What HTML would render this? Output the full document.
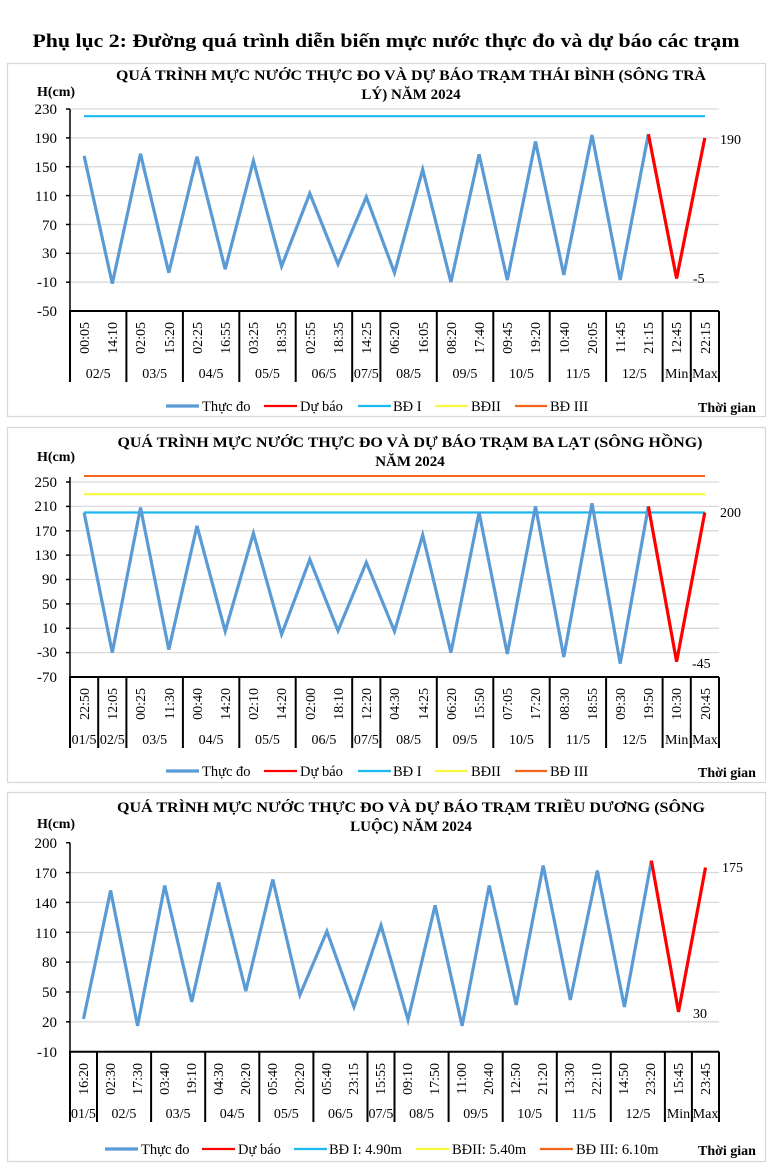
<!DOCTYPE html>
<html><head><meta charset="utf-8"><style>
html,body{margin:0;padding:0;background:#fff}
svg{display:block;font-family:"Liberation Serif","DejaVu Serif",serif}
.g{stroke:#d9d9d9;stroke-width:1.3}
.ax{stroke:#000;stroke-width:1.5}
.bx{stroke:#000;stroke-width:2}
.yl{font-size:15px;text-anchor:end}
.tl{font-size:14px;text-anchor:end}
.dl{font-size:14px;text-anchor:middle}
.lg{font-size:14.5px}
.tt{font-size:15px;font-weight:bold;text-anchor:middle}
.b{font-weight:bold}
.an{font-size:14px}
.s{fill:none;stroke:#5b9bd5;stroke-width:3.2;stroke-linejoin:miter}
.r{fill:none;stroke:#ff0000;stroke-width:3.2}
</style></head><body>
<svg width="771" height="1173" viewBox="0 0 771 1173" xmlns="http://www.w3.org/2000/svg">
<text x="386" y="47" text-anchor="middle" font-size="19" font-weight="bold" textLength="707" lengthAdjust="spacingAndGlyphs">Phụ lục 2: Đường quá trình diễn biến mực nước thực đo và dự báo các trạm</text>

<!-- ============ CHART 1 ============ -->
<rect x="7.5" y="63.5" width="758" height="353" fill="none" stroke="#d9d9d9" stroke-width="1.3"/>
<text class="tt" x="411" y="80" textLength="590" lengthAdjust="spacingAndGlyphs">QUÁ TRÌNH MỰC NƯỚC THỰC ĐO VÀ DỰ BÁO TRẠM THÁI BÌNH (SÔNG TRÀ</text>
<text class="tt" x="411" y="99">LÝ) NĂM 2024</text>
<text x="37" y="96" font-size="14" class="b">H(cm)</text>
<g class="g">
<line x1="70" x2="719" y1="109" y2="109"/><line x1="70" x2="719" y1="137.9" y2="137.9"/><line x1="70" x2="719" y1="166.7" y2="166.7"/><line x1="70" x2="719" y1="195.6" y2="195.6"/><line x1="70" x2="719" y1="224.5" y2="224.5"/><line x1="70" x2="719" y1="253.3" y2="253.3"/><line x1="70" x2="719" y1="282.2" y2="282.2"/>
</g>
<g class="yl"><text x="57" y="114">230</text><text x="57" y="143">190</text><text x="57" y="172">150</text><text x="57" y="201">110</text><text x="57" y="230">70</text><text x="57" y="258">30</text><text x="57" y="287">-10</text><text x="57" y="316">-50</text></g>
<line class="ax" x1="70" y1="109" x2="70" y2="311"/>
<g class="ax"><line x1="66" x2="70" y1="109" y2="109"/><line x1="66" x2="70" y1="137.9" y2="137.9"/><line x1="66" x2="70" y1="166.7" y2="166.7"/><line x1="66" x2="70" y1="195.6" y2="195.6"/><line x1="66" x2="70" y1="224.5" y2="224.5"/><line x1="66" x2="70" y1="253.3" y2="253.3"/><line x1="66" x2="70" y1="282.2" y2="282.2"/></g>
<line x1="84" x2="705" y1="116.2" y2="116.2" stroke="#1cb8f0" stroke-width="2.2"/>
<polyline class="s" points="84.1,155.9 112.3,283.6 140.5,153.7 168.8,272.8 197.0,156.6 225.2,269.2 253.4,160.9 281.6,266.3 309.8,193.4 338.0,264.1 366.3,197.0 394.5,272.8 422.7,169.6 450.9,282.1 479.1,154.4 507.3,280.0 535.5,141.5 563.8,274.9 592.0,135.0 620.2,280.0 648.4,134.2"/>
<polyline class="r" points="648.4,134.2 676.6,278.5 704.8,137.9"/>
<text x="720" y="144" class="an">190</text><text x="693" y="283" class="an">-5</text>
<line x1="69" x2="719" y1="311" y2="311" stroke="#000" stroke-width="2"/>
<g class="bx"><line x1="70" x2="70" y1="311" y2="382"/><line x1="126.4" x2="126.4" y1="311" y2="382"/><line x1="182.9" x2="182.9" y1="311" y2="382"/><line x1="239.3" x2="239.3" y1="311" y2="382"/><line x1="295.7" x2="295.7" y1="311" y2="382"/><line x1="352.2" x2="352.2" y1="311" y2="382"/><line x1="380.4" x2="380.4" y1="311" y2="382"/><line x1="436.8" x2="436.8" y1="311" y2="382"/><line x1="493.3" x2="493.3" y1="311" y2="382"/><line x1="549.7" x2="549.7" y1="311" y2="382"/><line x1="606.1" x2="606.1" y1="311" y2="382"/><line x1="662.6" x2="662.6" y1="311" y2="382"/><line x1="690.8" x2="690.8" y1="311" y2="382"/><line x1="719" x2="719" y1="311" y2="382"/></g>
<g class="tl">
<text transform="translate(89,322) rotate(-90)">00:05</text><text transform="translate(117,322) rotate(-90)">14:10</text><text transform="translate(145,322) rotate(-90)">02:05</text><text transform="translate(174,322) rotate(-90)">15:20</text><text transform="translate(202,322) rotate(-90)">02:25</text><text transform="translate(230,322) rotate(-90)">16:55</text><text transform="translate(258,322) rotate(-90)">03:25</text><text transform="translate(286,322) rotate(-90)">18:35</text><text transform="translate(315,322) rotate(-90)">02:55</text><text transform="translate(343,322) rotate(-90)">18:35</text><text transform="translate(371,322) rotate(-90)">14:25</text><text transform="translate(399,322) rotate(-90)">06:20</text><text transform="translate(428,322) rotate(-90)">16:05</text><text transform="translate(456,322) rotate(-90)">08:20</text><text transform="translate(484,322) rotate(-90)">17:40</text><text transform="translate(512,322) rotate(-90)">09:45</text><text transform="translate(540,322) rotate(-90)">19:20</text><text transform="translate(569,322) rotate(-90)">10:40</text><text transform="translate(597,322) rotate(-90)">20:05</text><text transform="translate(625,322) rotate(-90)">11:45</text><text transform="translate(653,322) rotate(-90)">21:15</text><text transform="translate(681,322) rotate(-90)">12:45</text><text transform="translate(710,322) rotate(-90)">22:15</text>
</g>
<g class="dl">
<text x="98.2" y="378">02/5</text><text x="154.7" y="378">03/5</text><text x="211.1" y="378">04/5</text><text x="267.5" y="378">05/5</text><text x="324" y="378">06/5</text><text x="366.3" y="378">07/5</text><text x="408.6" y="378">08/5</text><text x="465" y="378">09/5</text><text x="521.5" y="378">10/5</text><text x="577.9" y="378">11/5</text><text x="634.3" y="378">12/5</text><text x="676.7" y="378">Min</text><text x="704.9" y="378">Max</text>
</g>
<g class="lg">
<line x1="166" x2="199" y1="406" y2="406" stroke="#5b9bd5" stroke-width="3.2"/><text x="202" y="411">Thực đo</text>
<line x1="264" x2="297" y1="406" y2="406" stroke="#ff0000" stroke-width="2.2"/><text x="300" y="411">Dự báo</text>
<line x1="358" x2="391" y1="406" y2="406" stroke="#1cb8f0" stroke-width="2.2"/><text x="393" y="411">BĐ I</text>
<line x1="435" x2="468" y1="406" y2="406" stroke="#f7f740" stroke-width="2.2"/><text x="471" y="411">BĐII</text>
<line x1="515" x2="547" y1="406" y2="406" stroke="#f4651b" stroke-width="2.2"/><text x="550" y="411">BĐ III</text>
<text x="698" y="412" class="b" font-size="14">Thời gian</text>
</g>

<!-- ============ CHART 2 ============ -->
<rect x="7.5" y="427.5" width="758" height="355" fill="none" stroke="#d9d9d9" stroke-width="1.3"/>
<text class="tt" x="410" y="447" textLength="585" lengthAdjust="spacingAndGlyphs">QUÁ TRÌNH MỰC NƯỚC THỰC ĐO VÀ DỰ BÁO TRẠM BA LẠT (SÔNG HỒNG)</text>
<text class="tt" x="410" y="466">NĂM 2024</text>
<text x="37" y="461" font-size="14" class="b">H(cm)</text>
<g class="g">
<line x1="70" x2="719" y1="482" y2="482"/><line x1="70" x2="719" y1="506.4" y2="506.4"/><line x1="70" x2="719" y1="530.8" y2="530.8"/><line x1="70" x2="719" y1="555.1" y2="555.1"/><line x1="70" x2="719" y1="579.5" y2="579.5"/><line x1="70" x2="719" y1="603.9" y2="603.9"/><line x1="70" x2="719" y1="628.3" y2="628.3"/><line x1="70" x2="719" y1="652.6" y2="652.6"/>
</g>
<g class="yl"><text x="57" y="487">250</text><text x="57" y="511">210</text><text x="57" y="536">170</text><text x="57" y="560">130</text><text x="57" y="584">90</text><text x="57" y="609">50</text><text x="57" y="633">10</text><text x="57" y="657">-30</text><text x="57" y="682">-70</text></g>
<line class="ax" x1="70" y1="477" x2="70" y2="677"/>
<g class="ax"><line x1="66" x2="70" y1="482" y2="482"/><line x1="66" x2="70" y1="506.4" y2="506.4"/><line x1="66" x2="70" y1="530.8" y2="530.8"/><line x1="66" x2="70" y1="555.1" y2="555.1"/><line x1="66" x2="70" y1="579.5" y2="579.5"/><line x1="66" x2="70" y1="603.9" y2="603.9"/><line x1="66" x2="70" y1="628.3" y2="628.3"/><line x1="66" x2="70" y1="652.6" y2="652.6"/></g>
<line x1="84" x2="705" y1="476" y2="476" stroke="#f4651b" stroke-width="2"/>
<line x1="84" x2="705" y1="494.2" y2="494.2" stroke="#f7f740" stroke-width="2.2"/>
<line x1="84" x2="705" y1="512.5" y2="512.5" stroke="#1cb8f0" stroke-width="2.2"/>
<polyline class="s" points="84.1,512.5 112.3,652.6 140.5,507.6 168.8,649.6 197.0,525.9 225.2,631.3 253.4,533.2 281.6,634.4 309.8,559.4 338.0,630.7 366.3,562.4 394.5,631.3 422.7,535.0 450.9,652.6 479.1,512.5 507.3,653.9 535.5,506.4 563.8,656.9 592.0,503.3 620.2,663.6 648.4,506.4"/>
<polyline class="r" points="648.4,506.4 676.6,661.7 704.8,512.5"/>
<text x="720" y="517" class="an">200</text><text x="692" y="668" class="an">-45</text>
<line x1="69" x2="719" y1="677" y2="677" stroke="#000" stroke-width="2"/>
<g class="bx"><line x1="70" x2="70" y1="677" y2="748"/><line x1="98.2" x2="98.2" y1="677" y2="748"/><line x1="126.4" x2="126.4" y1="677" y2="748"/><line x1="182.9" x2="182.9" y1="677" y2="748"/><line x1="239.3" x2="239.3" y1="677" y2="748"/><line x1="295.7" x2="295.7" y1="677" y2="748"/><line x1="352.2" x2="352.2" y1="677" y2="748"/><line x1="380.4" x2="380.4" y1="677" y2="748"/><line x1="436.8" x2="436.8" y1="677" y2="748"/><line x1="493.3" x2="493.3" y1="677" y2="748"/><line x1="549.7" x2="549.7" y1="677" y2="748"/><line x1="606.1" x2="606.1" y1="677" y2="748"/><line x1="662.6" x2="662.6" y1="677" y2="748"/><line x1="690.8" x2="690.8" y1="677" y2="748"/><line x1="719" x2="719" y1="677" y2="748"/></g>
<g class="tl">
<text transform="translate(89,688) rotate(-90)">22:50</text><text transform="translate(117,688) rotate(-90)">12:05</text><text transform="translate(145,688) rotate(-90)">00:25</text><text transform="translate(174,688) rotate(-90)">11:30</text><text transform="translate(202,688) rotate(-90)">00:40</text><text transform="translate(230,688) rotate(-90)">14:20</text><text transform="translate(258,688) rotate(-90)">02:10</text><text transform="translate(286,688) rotate(-90)">14:20</text><text transform="translate(315,688) rotate(-90)">02:00</text><text transform="translate(343,688) rotate(-90)">18:10</text><text transform="translate(371,688) rotate(-90)">12:20</text><text transform="translate(399,688) rotate(-90)">04:30</text><text transform="translate(428,688) rotate(-90)">14:25</text><text transform="translate(456,688) rotate(-90)">06:20</text><text transform="translate(484,688) rotate(-90)">15:50</text><text transform="translate(512,688) rotate(-90)">07:05</text><text transform="translate(540,688) rotate(-90)">17:20</text><text transform="translate(569,688) rotate(-90)">08:30</text><text transform="translate(597,688) rotate(-90)">18:55</text><text transform="translate(625,688) rotate(-90)">09:30</text><text transform="translate(653,688) rotate(-90)">19:50</text><text transform="translate(681,688) rotate(-90)">10:30</text><text transform="translate(710,688) rotate(-90)">20:45</text>
</g>
<g class="dl">
<text x="84.1" y="744">01/5</text><text x="112.3" y="744">02/5</text><text x="154.7" y="744">03/5</text><text x="211.1" y="744">04/5</text><text x="267.5" y="744">05/5</text><text x="324" y="744">06/5</text><text x="366.3" y="744">07/5</text><text x="408.6" y="744">08/5</text><text x="465" y="744">09/5</text><text x="521.5" y="744">10/5</text><text x="577.9" y="744">11/5</text><text x="634.3" y="744">12/5</text><text x="676.7" y="744">Min</text><text x="704.9" y="744">Max</text>
</g>
<g class="lg">
<line x1="166" x2="199" y1="771" y2="771" stroke="#5b9bd5" stroke-width="3.2"/><text x="202" y="776">Thực đo</text>
<line x1="264" x2="297" y1="771" y2="771" stroke="#ff0000" stroke-width="2.2"/><text x="300" y="776">Dự báo</text>
<line x1="358" x2="391" y1="771" y2="771" stroke="#1cb8f0" stroke-width="2.2"/><text x="393" y="776">BĐ I</text>
<line x1="435" x2="468" y1="771" y2="771" stroke="#f7f740" stroke-width="2.2"/><text x="471" y="776">BĐII</text>
<line x1="515" x2="547" y1="771" y2="771" stroke="#f4651b" stroke-width="2.2"/><text x="550" y="776">BĐ III</text>
<text x="698" y="777" class="b" font-size="14">Thời gian</text>
</g>

<!-- ============ CHART 3 ============ -->
<rect x="7.5" y="792.5" width="758" height="369" fill="none" stroke="#d9d9d9" stroke-width="1.3"/>
<text class="tt" x="411" y="812" textLength="588" lengthAdjust="spacingAndGlyphs">QUÁ TRÌNH MỰC NƯỚC THỰC ĐO VÀ DỰ BÁO TRẠM TRIỀU DƯƠNG (SÔNG</text>
<text class="tt" x="411" y="831">LUỘC) NĂM 2024</text>
<text x="37" y="828" font-size="14" class="b">H(cm)</text>
<g class="g">
<line x1="70" x2="719" y1="872.6" y2="872.6"/><line x1="70" x2="719" y1="902.4" y2="902.4"/><line x1="70" x2="719" y1="932.3" y2="932.3"/><line x1="70" x2="719" y1="962.1" y2="962.1"/><line x1="70" x2="719" y1="992" y2="992"/><line x1="70" x2="719" y1="1021.8" y2="1021.8"/>
</g>
<g class="yl"><text x="57" y="848">200</text><text x="57" y="878">170</text><text x="57" y="908">140</text><text x="57" y="938">110</text><text x="57" y="967">80</text><text x="57" y="997">50</text><text x="57" y="1027">20</text><text x="57" y="1057">-10</text></g>
<line class="ax" x1="70" y1="842.7" x2="70" y2="1051.7"/>
<g class="ax"><line x1="66" x2="70" y1="842.7" y2="842.7"/><line x1="66" x2="70" y1="872.6" y2="872.6"/><line x1="66" x2="70" y1="902.4" y2="902.4"/><line x1="66" x2="70" y1="932.3" y2="932.3"/><line x1="66" x2="70" y1="962.1" y2="962.1"/><line x1="66" x2="70" y1="992" y2="992"/><line x1="66" x2="70" y1="1021.8" y2="1021.8"/></g>
<polyline class="s" points="83.5,1018.9 110.6,890.5 137.6,1025.8 164.7,885.5 191.7,1001.9 218.7,882.5 245.8,991.0 272.8,879.5 299.9,995.0 326.9,931.3 354.0,1006.9 381.0,925.3 408.0,1019.8 435.1,905.4 462.1,1025.8 489.2,885.5 516.2,1004.9 543.2,865.6 570.3,999.9 597.3,870.6 624.4,1006.9 651.4,860.6"/>
<polyline class="r" points="651.4,860.6 678.5,1011.9 705.5,867.6"/>
<text x="722" y="872" class="an">175</text><text x="693" y="1018" class="an">30</text>
<line x1="69" x2="719" y1="1051.7" y2="1051.7" stroke="#000" stroke-width="2"/>
<g class="bx"><line x1="70" x2="70" y1="1051.7" y2="1122"/><line x1="97" x2="97" y1="1051.7" y2="1122"/><line x1="151.1" x2="151.1" y1="1051.7" y2="1122"/><line x1="205.2" x2="205.2" y1="1051.7" y2="1122"/><line x1="259.3" x2="259.3" y1="1051.7" y2="1122"/><line x1="313.4" x2="313.4" y1="1051.7" y2="1122"/><line x1="367.5" x2="367.5" y1="1051.7" y2="1122"/><line x1="394.5" x2="394.5" y1="1051.7" y2="1122"/><line x1="448.6" x2="448.6" y1="1051.7" y2="1122"/><line x1="502.7" x2="502.7" y1="1051.7" y2="1122"/><line x1="556.8" x2="556.8" y1="1051.7" y2="1122"/><line x1="610.8" x2="610.8" y1="1051.7" y2="1122"/><line x1="664.9" x2="664.9" y1="1051.7" y2="1122"/><line x1="691.9" x2="691.9" y1="1051.7" y2="1122"/><line x1="719" x2="719" y1="1051.7" y2="1122"/></g>
<g class="tl">
<text transform="translate(88,1063) rotate(-90)">16:20</text><text transform="translate(115,1063) rotate(-90)">02:30</text><text transform="translate(142,1063) rotate(-90)">17:30</text><text transform="translate(169,1063) rotate(-90)">03:40</text><text transform="translate(196,1063) rotate(-90)">19:10</text><text transform="translate(223,1063) rotate(-90)">04:30</text><text transform="translate(250,1063) rotate(-90)">20:20</text><text transform="translate(277,1063) rotate(-90)">05:40</text><text transform="translate(304,1063) rotate(-90)">20:20</text><text transform="translate(331,1063) rotate(-90)">05:40</text><text transform="translate(358,1063) rotate(-90)">23:15</text><text transform="translate(385,1063) rotate(-90)">15:55</text><text transform="translate(412,1063) rotate(-90)">09:10</text><text transform="translate(439,1063) rotate(-90)">17:50</text><text transform="translate(466,1063) rotate(-90)">11:00</text><text transform="translate(493,1063) rotate(-90)">20:40</text><text transform="translate(520,1063) rotate(-90)">12:50</text><text transform="translate(547,1063) rotate(-90)">21:20</text><text transform="translate(574,1063) rotate(-90)">13:30</text><text transform="translate(601,1063) rotate(-90)">22:10</text><text transform="translate(628,1063) rotate(-90)">14:50</text><text transform="translate(655,1063) rotate(-90)">23:20</text><text transform="translate(683,1063) rotate(-90)">15:45</text><text transform="translate(710,1063) rotate(-90)">23:45</text>
</g>
<g class="dl">
<text x="83.5" y="1118">01/5</text><text x="124" y="1118">02/5</text><text x="178.1" y="1118">03/5</text><text x="232.2" y="1118">04/5</text><text x="286.3" y="1118">05/5</text><text x="340.4" y="1118">06/5</text><text x="381" y="1118">07/5</text><text x="421.6" y="1118">08/5</text><text x="475.7" y="1118">09/5</text><text x="529.7" y="1118">10/5</text><text x="583.8" y="1118">11/5</text><text x="637.9" y="1118">12/5</text><text x="678.5" y="1118">Min</text><text x="705.5" y="1118">Max</text>
</g>
<g class="lg">
<line x1="105" x2="138" y1="1149" y2="1149" stroke="#5b9bd5" stroke-width="3.2"/><text x="141" y="1154">Thực đo</text>
<line x1="202" x2="235" y1="1149" y2="1149" stroke="#ff0000" stroke-width="2.2"/><text x="238" y="1154">Dự báo</text>
<line x1="294" x2="327" y1="1149" y2="1149" stroke="#1cb8f0" stroke-width="2.2"/><text x="329" y="1154">BĐ I: 4.90m</text>
<line x1="416" x2="449" y1="1149" y2="1149" stroke="#f7f740" stroke-width="2.2"/><text x="452" y="1154">BĐII: 5.40m</text>
<line x1="540" x2="573" y1="1149" y2="1149" stroke="#f4651b" stroke-width="2.2"/><text x="576" y="1154">BĐ III: 6.10m</text>
<text x="698" y="1155" class="b" font-size="14">Thời gian</text>
</g>
</svg>
</body></html>
